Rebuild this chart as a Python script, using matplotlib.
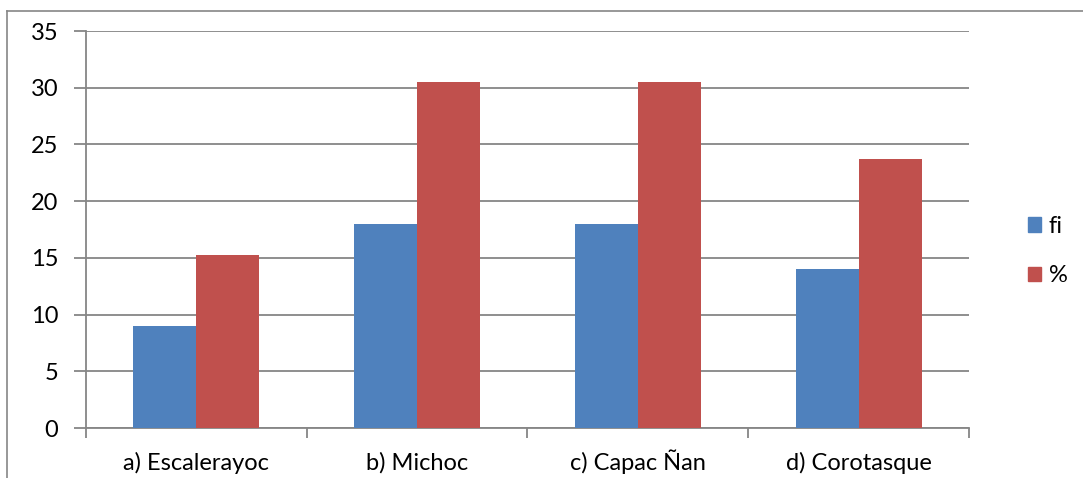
import matplotlib.pyplot as plt
from matplotlib.lines import Line2D
from matplotlib.patches import Patch
import numpy as np

plt.rcParams['font.family'] = ['Lato', 'DejaVu Sans']

categories = ['a) Escalerayoc', 'b) Michoc', 'c) Capac Ñan', 'd) Corotasque']
fi = [9, 18, 18, 14]
pct = [15.25, 30.51, 30.51, 23.73]

blue = '#4f81bd'
red = '#c0504d'
grey = '#868686'

fig = plt.figure(figsize=(10.83, 4.78), dpi=100)
ax = fig.add_axes([0.0794, 0.1046, 0.8153, 0.8305])

x = np.arange(len(categories))
w = 0.285
ax.bar(x - w / 2, fi, w, color=blue, label='fi', zorder=3)
ax.bar(x + w / 2, pct, w, color=red, label='%', zorder=3)

ax.set_xlim(-0.5, len(categories) - 0.5)
ax.set_ylim(0, 35)
ax.set_yticks(range(0, 36, 5))
ax.yaxis.grid(True, color=grey, linewidth=1.3, zorder=0)
ax.set_xticks(x)
ax.set_xticklabels(categories, fontsize=17, va='baseline')
ax.tick_params(axis='x', length=0, pad=30)
ax.set_xticks(np.arange(-0.5, len(categories)), minor=True)
ax.tick_params(axis='x', which='minor', length=7, color=grey, width=1.3)
ax.tick_params(axis='y', length=9, color=grey, width=1.3, labelsize=17, pad=11)

for s in ['top', 'right']:
    ax.spines[s].set_visible(False)
for s in ['left', 'bottom']:
    ax.spines[s].set_color(grey)
    ax.spines[s].set_linewidth(1.3)

handles = [Patch(color=blue, label='fi'), Patch(color=red, label='%')]
fig.legend(handles=handles, loc='center left', bbox_to_anchor=(0.938, 0.475),
           frameon=False, fontsize=17, handlelength=0.55, handleheight=0.55,
           handletextpad=0.35, labelspacing=1.2, borderpad=0)

# outer chart frame
fig.add_artist(Line2D([7 / 1083, 7 / 1083], [0, 1 - 11 / 478], color=grey, linewidth=1.2))
fig.add_artist(Line2D([7 / 1083, 1], [1 - 11 / 478, 1 - 11 / 478], color=grey, linewidth=1.2))

fig.savefig('out.png', dpi=100)
